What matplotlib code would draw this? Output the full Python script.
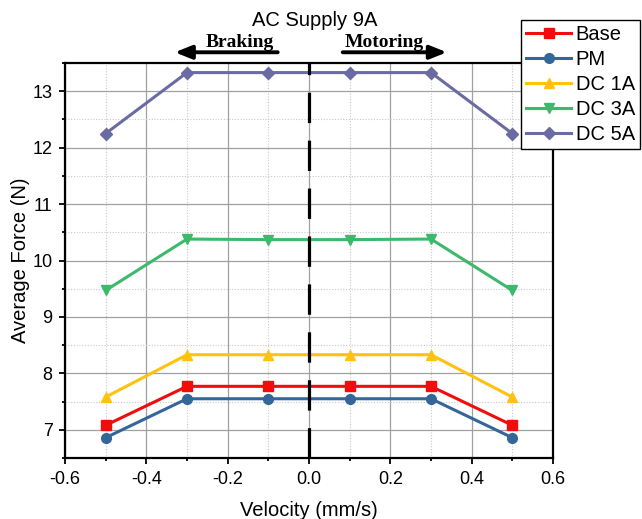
import matplotlib.pyplot as plt
import numpy as np

plt.rcParams['font.family'] = ['Liberation Sans', 'DejaVu Sans']

velocity = [-0.5, -0.3, -0.1, 0.1, 0.3, 0.5]
base = [7.08, 7.77, 7.77, 7.77, 7.77, 7.08]
pm = [6.86, 7.55, 7.55, 7.55, 7.55, 6.86]
dc1a = [7.58, 8.33, 8.33, 8.33, 8.33, 7.58]
dc3a = [9.47, 10.38, 10.37, 10.37, 10.38, 9.47]
dc5a = [12.25, 13.33, 13.33, 13.33, 13.33, 12.25]

series = [
    ("Base", base, "#f20c0c", "s"),
    ("PM", pm, "#336699", "o"),
    ("DC 1A", dc1a, "#ffc20e", "^"),
    ("DC 3A", dc3a, "#3cb96b", "v"),
    ("DC 5A", dc5a, "#6b6ba3", "D"),
]

fig = plt.figure(figsize=(6.42, 5.19), dpi=100)
ax = fig.add_axes([65 / 642, 1 - 458 / 519, 488 / 642, 395 / 519])

for name, vals, col, mk in series:
    ax.plot(velocity, vals, color=col, marker=mk, markersize=7 if mk != "D" else 6,
            linewidth=2.2, label=name)

ax.axvline(0, color="black", linestyle=(0, (9.5, 5.5)), linewidth=2.3, zorder=5)

ax.set_xlim(-0.6, 0.6)
ax.set_ylim(6.5, 13.5)
ax.xaxis.set_major_locator(plt.MultipleLocator(0.2))
ax.xaxis.set_minor_locator(plt.MultipleLocator(0.1))
ax.yaxis.set_major_locator(plt.MultipleLocator(1))
ax.yaxis.set_minor_locator(plt.MultipleLocator(0.5))
ax.xaxis.set_major_formatter(plt.FormatStrFormatter('%.1f'))
ax.grid(True, which='major', color='#a0a0a0', linewidth=0.9)
ax.grid(True, which='minor', color='#c8c8c8', linewidth=0.8, linestyle=(0, (1, 1.5)))
ax.set_axisbelow(True)
ax.tick_params(which='major', direction='out', length=4, width=1.3, labelsize=13, pad=5)
ax.tick_params(which='minor', direction='out', length=2.5, width=1.3)
for s in ax.spines.values():
    s.set_linewidth(1.6)

ax.set_xlabel('Velocity (mm/s)', fontsize=14.5, labelpad=10)
ax.set_ylabel('Average Force (N)', fontsize=14.5, labelpad=2)
fig.text(315 / 642, 1 - 20 / 519, 'AC Supply 9A', ha='center', va='center', fontsize=14.5)

# direction annotations
arrow = dict(arrowstyle='-|>,head_length=1.0,head_width=0.4', color='black', lw=2.8,
             shrinkA=0, shrinkB=0)
ax.annotate('', xy=(-0.33, 13.69), xytext=(-0.077, 13.69), annotation_clip=False,
            arrowprops=arrow)
ax.annotate('', xy=(0.339, 13.69), xytext=(0.083, 13.69), annotation_clip=False,
            arrowprops=arrow)
ax.text(-0.17, 13.87, 'Braking', ha='center', va='center', fontsize=14,
        fontweight='bold', family='Liberation Serif', clip_on=False)
ax.text(0.186, 13.87, 'Motoring', ha='center', va='center', fontsize=14,
        fontweight='bold', family='Liberation Serif', clip_on=False)

leg = fig.legend(loc='upper right', bbox_to_anchor=(640 / 642, 1 - 20 / 519),
                 fontsize=14.5, frameon=True, fancybox=False, edgecolor='black',
                 framealpha=1, borderpad=0.25, labelspacing=0.3, handlelength=2.2,
                 handletextpad=0.25, borderaxespad=0)
leg.get_frame().set_linewidth(1.0)
leg.set_zorder(10)

fig.savefig('out.png', dpi=100)
